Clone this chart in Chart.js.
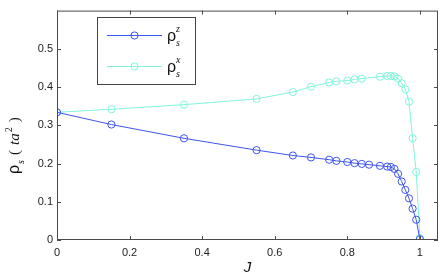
<!DOCTYPE html>
<html><head><meta charset="utf-8">
<script src="https://cdn.jsdelivr.net/npm/chart.js@4/dist/chart.umd.min.js"></script>
<style>html,body{margin:0;padding:0;background:#fff}#wrap{width:443px;height:277px}</style>
</head><body><div id="wrap"><canvas id="c" width="443" height="277"></canvas></div>
<script>
const jZ = [0,0.15,0.35,0.55,0.65,0.70,0.75,0.77,0.80,0.82,0.84,0.86,0.89,0.91,0.92,0.93,0.94,0.95,0.96,0.97,0.98,0.99,1.0];
const rhoZ = [0.334,0.302,0.266,0.235,0.221,0.216,0.210,0.207,0.204,0.201,0.199,0.197,0.194,0.192,0.191,0.186,0.173,0.153,0.131,0.109,0.082,0.053,0.002];
const jX = [0,0.15,0.35,0.55,0.65,0.70,0.75,0.77,0.80,0.82,0.84,0.89,0.91,0.92,0.93,0.94,0.95,0.96,0.97,0.98,0.99,1.0];
const rhoX = [0.334,0.342,0.354,0.369,0.387,0.401,0.412,0.415,0.417,0.420,0.422,0.427,0.429,0.429,0.428,0.422,0.410,0.394,0.362,0.266,0.178,0.005];
const xTicks = [0,0.2,0.4,0.6,0.8,1];
const yTicks = [0,0.1,0.2,0.3,0.4,0.5];
const xLabels = ['0','0.2','0.4','0.6','0.8','1'];
const yLabels = ['0','0.1','0.2','0.3','0.4','0.5'];
const seriesNames = [['ρ','z','s'],['ρ','x','s']];
const colZ = '#4055ee';
const colX = '#80f5dc';

const toPts = (xs, ys) => xs.map((x,i)=>({x:x, y:ys[i]}));

const framePlugin = {
  id:'frame',
  afterDatasetsDraw(chart){
    const {ctx, chartArea:a, scales} = chart;
    ctx.save();
    ctx.strokeStyle = '#4a4a4a';
    ctx.lineWidth = 1;
    ctx.strokeRect(a.left+0.5, a.top+0.5, a.right-a.left-1, a.bottom-a.top-1);
    ctx.beginPath();
    xTicks.forEach(v=>{
      const px = Math.round(scales.x.getPixelForValue(v))+0.5;
      ctx.moveTo(px,a.bottom); ctx.lineTo(px,a.bottom-4);
      ctx.moveTo(px,a.top); ctx.lineTo(px,a.top+4);
    });
    yTicks.forEach(v=>{
      const py = Math.round(scales.y.getPixelForValue(v))+0.5;
      ctx.moveTo(a.left,py); ctx.lineTo(a.left+4,py);
      ctx.moveTo(a.right,py); ctx.lineTo(a.right-4,py);
    });
    ctx.stroke();
    // legend
    const lx=97, ly=17, lw=98, lh=67;
    ctx.fillStyle='#fff';
    ctx.fillRect(lx,ly,lw,lh);
    ctx.strokeStyle='#444';
    ctx.strokeRect(lx+0.5,ly+0.5,lw,lh);
    chart.data.datasets.forEach((ds,i)=>{
      const y = ly + 18.5 + i*31;
      ctx.strokeStyle = ds.borderColor; ctx.lineWidth=1;
      ctx.beginPath(); ctx.moveTo(107,y); ctx.lineTo(162,y); ctx.stroke();
      ctx.beginPath(); ctx.arc(134.5,y,3.6,0,Math.PI*2); ctx.stroke();
      const nm = seriesNames[i];
      ctx.fillStyle='#111';
      ctx.textBaseline='alphabetic'; ctx.textAlign='left';
      ctx.font='16px "Liberation Sans", Arial, sans-serif';
      ctx.fillText(nm[0],167,y+5);
      ctx.font='italic 10px "Liberation Serif", serif';
      ctx.fillText(nm[1],176,y-4);
      ctx.fillText(nm[2],176,y+10);
    });
    // axis titles
    ctx.fillStyle='#111';
    ctx.font='italic 15px "Liberation Sans", Arial, sans-serif';
    ctx.textAlign='center'; ctx.textBaseline='alphabetic';
    ctx.fillText('J', (a.left+a.right)/2 + 0, 272);
    ctx.save();
    ctx.translate(19, 174);
    ctx.rotate(-Math.PI/2);
    ctx.textAlign='left';
    let x=0;
    ctx.font='16px "Liberation Sans", Arial, sans-serif';
    ctx.fillText('ρ',x,0); x+=ctx.measureText('ρ').width+1;
    ctx.font='italic 10px "Liberation Serif", serif';
    ctx.fillText('s',x,5); x+=ctx.measureText('s').width+5;
    ctx.font='15px "Liberation Serif", serif';
    ctx.fillText('(',x,0); x+=ctx.measureText('(').width+5;
    ctx.font='italic 15px "Liberation Serif", serif';
    ctx.fillText('ta',x,0); x+=ctx.measureText('ta').width+1;
    ctx.font='10px "Liberation Serif", serif';
    ctx.fillText('2',x,-7); x+=ctx.measureText('2').width+5;
    ctx.font='15px "Liberation Serif", serif';
    ctx.fillText(')',x,0);
    ctx.restore();
    ctx.restore();
  }
};

new Chart(document.getElementById('c'), {
  type:'scatter',
  data:{datasets:[
    {label:'rho_z', data:toPts(jZ,rhoZ), showLine:true, borderColor:colZ, backgroundColor:'rgba(0,0,0,0)', borderWidth:1, pointRadius:3.6, pointBorderWidth:1, pointBorderColor:colZ, pointBackgroundColor:'rgba(0,0,0,0)', tension:0},
    {label:'rho_x', data:toPts(jX,rhoX), showLine:true, borderColor:colX, backgroundColor:'rgba(0,0,0,0)', borderWidth:1, pointRadius:3.6, pointBorderWidth:1, pointBorderColor:colX, pointBackgroundColor:'rgba(0,0,0,0)', tension:0}
  ]},
  options:{
    responsive:false, animation:false, devicePixelRatio:1,
    layout:{padding:{left:0,top:4,right:4,bottom:0}},
    plugins:{legend:{display:false}, tooltip:{enabled:false}},
    scales:{
      x:{type:'linear', min:0, max:1.05,
         afterBuildTicks:s=>{s.ticks = xTicks.map(v=>({value:v}));},
         afterFit:s=>{s.height=37;},
         grid:{display:false, drawTicks:false}, border:{display:false},
         ticks:{padding:6, color:'#222', font:{family:'"Liberation Sans", Arial, sans-serif', size:11},
                callback:(v)=>xLabels[xTicks.indexOf(v)] ?? ''}},
      y:{type:'linear', min:0, max:0.6,
         afterBuildTicks:s=>{s.ticks = yTicks.map(v=>({value:v}));},
         afterFit:s=>{s.width=57;},
         grid:{display:false, drawTicks:false}, border:{display:false},
         ticks:{padding:4, color:'#222', font:{family:'"Liberation Sans", Arial, sans-serif', size:11},
                callback:(v)=>yLabels[yTicks.indexOf(v)] ?? ''}}
    }
  },
  plugins:[framePlugin]
});
</script></body></html>
